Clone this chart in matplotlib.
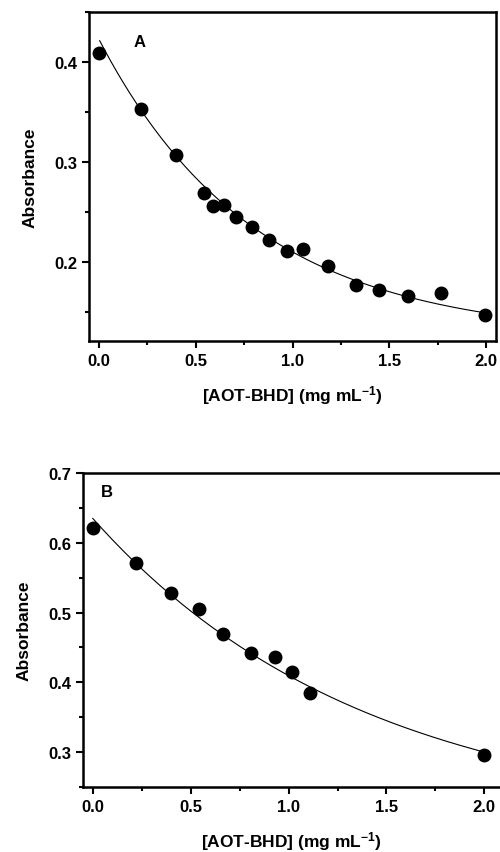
import numpy as np
import matplotlib
matplotlib.use("Agg")
import matplotlib.pyplot as plt
from matplotlib.ticker import MultipleLocator

plt.rcParams['font.family'] = ['Liberation Sans', 'DejaVu Sans']
plt.rcParams['font.weight'] = 'bold'
plt.rcParams['mathtext.fontset'] = 'custom'
plt.rcParams['mathtext.rm'] = 'Liberation Sans:bold'
plt.rcParams['mathtext.bf'] = 'Liberation Sans:bold'
plt.rcParams['mathtext.default'] = 'bf'

# panel A data
conc_a = [0.0, 0.22, 0.40, 0.543, 0.59, 0.648, 0.71, 0.789, 0.878, 0.97,
          1.056, 1.183, 1.326, 1.447, 1.595, 1.767, 1.995]
abs_a = [0.409, 0.353, 0.307, 0.269, 0.256, 0.257, 0.245, 0.235, 0.222, 0.211,
         0.213, 0.196, 0.177, 0.172, 0.166, 0.169, 0.147]
# exponential decay fit shown in A: y = c + a*exp(-k x)
fit_a = (0.1245, 0.2985, 1.25)

# panel B data
conc_b = [0.0, 0.223, 0.402, 0.543, 0.666, 0.81, 0.93, 1.018, 1.109, 2.0]
abs_b = [0.621, 0.571, 0.528, 0.505, 0.470, 0.442, 0.436, 0.415, 0.385, 0.296]
fit_b = (0.196, 0.439, 0.72)

xlabel = r'[AOT-BHD] (mg mL$^{-1}$)'


def exp_curve(params, x):
    c, a, k = params
    return c + a * np.exp(-k * x)


def style_axes(ax):
    ax.tick_params(which='both', direction='out', top=False, right=False,
                   labelsize=12, width=1.5)
    ax.tick_params(which='major', length=5)
    ax.tick_params(which='minor', length=3)
    for s in ax.spines.values():
        s.set_linewidth(1.8)
    ax.xaxis.set_major_locator(MultipleLocator(0.5))
    ax.xaxis.set_minor_locator(MultipleLocator(0.25))
    ax.yaxis.set_major_locator(MultipleLocator(0.1))
    ax.yaxis.set_minor_locator(MultipleLocator(0.05))
    ax.set_ylabel('Absorbance', fontsize=12.5, fontweight='bold', labelpad=12)
    ax.set_xlabel(xlabel, fontsize=12.5, fontweight='bold', labelpad=11)


fig = plt.figure(figsize=(5, 8.53), dpi=100)

ax1 = fig.add_axes([0.178, 0.599, 0.814, 0.386])
xs = np.linspace(0.005, 2.0, 200)
ax1.plot(xs, exp_curve(fit_a, xs), color='black', lw=0.8)
ax1.plot(conc_a, abs_a, 'o', color='black', ms=9)
ax1.set_xlim(-0.05, 2.05)
ax1.set_ylim(0.121, 0.45)
style_axes(ax1)
ax1.text(0.125, 0.91, 'A', transform=ax1.transAxes, fontsize=12,
         fontweight='bold', ha='center', va='center')

ax2 = fig.add_axes([0.166, 0.0762, 0.834, 0.368])
xs = np.linspace(0.0, 2.0, 200)
ax2.plot(xs, exp_curve(fit_b, xs), color='black', lw=0.8)
ax2.plot(conc_b, abs_b, 'o', color='black', ms=9)
ax2.set_xlim(-0.05, 2.08)
ax2.set_ylim(0.25, 0.7)
style_axes(ax2)
ax2.spines['right'].set_visible(False)
ax2.text(0.058, 0.94, 'B', transform=ax2.transAxes, fontsize=12,
         fontweight='bold', ha='center', va='center')

fig.savefig('out.png', dpi=100)
